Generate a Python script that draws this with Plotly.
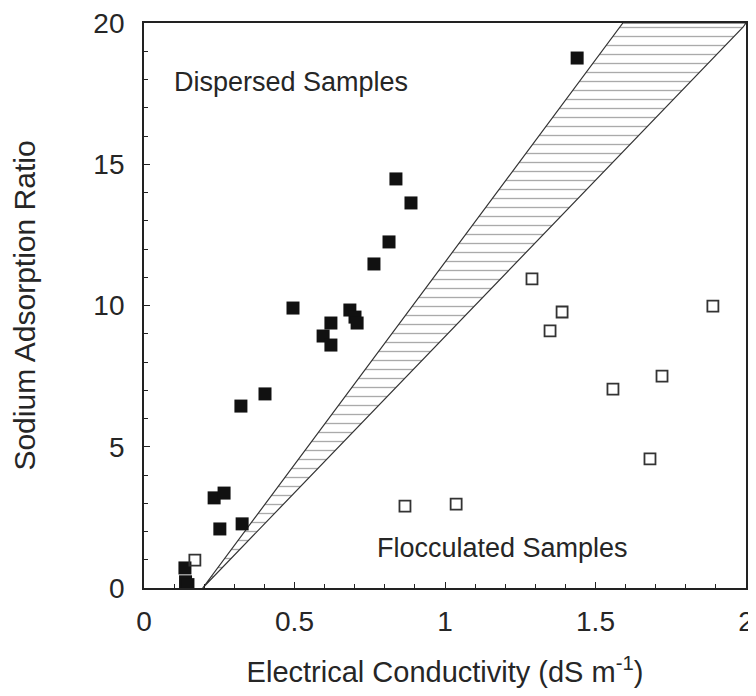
import plotly.graph_objects as go

# Dispersed samples (filled squares)
disp_ec = [1.439, 0.837, 0.887, 0.814, 0.764, 0.495, 0.684, 0.701, 0.708, 0.621, 0.595, 0.621,
           0.402, 0.322, 0.233, 0.266, 0.252, 0.326, 0.136, 0.138, 0.146]
disp_sar = [18.76, 14.48, 13.63, 12.25, 11.47, 9.91, 9.84, 9.59, 9.38, 9.38, 8.92, 8.60,
            6.87, 6.44, 3.19, 3.36, 2.09, 2.27, 0.71, 0.22, 0.12]

# Flocculated samples (open squares)
floc_ec = [0.169, 0.867, 1.037, 1.289, 1.389, 1.349, 1.890, 1.721, 1.558, 1.681]
floc_sar = [0.99, 2.90, 2.97, 10.94, 9.77, 9.10, 9.98, 7.50, 7.04, 4.57]

# Threshold band (hatched wedge): apex, upper boundary top, corner, lower boundary top
band_ec = [0.195, 1.591, 2.0, 1.99, 0.195]
band_sar = [0.0, 20.0, 20.0, 19.85, 0.0]

x_ticks = [0, 0.5, 1, 1.5, 2]
x_tick_labels = ["0", "0.5", "1", "1.5", "2"]
y_ticks = [0, 5, 10, 15, 20]
y_tick_labels = ["0", "5", "10", "15", "20"]

FONT = "Liberation Sans, Arial, Helvetica, sans-serif"
TXT = "#262626"

fig = go.Figure()

fig.add_trace(go.Scatter(
    x=band_ec, y=band_sar, mode="lines", fill="toself",
    line=dict(color="#333333", width=1.2),
    fillcolor="white",
    fillpattern=dict(shape="-", fgcolor="#555555", bgcolor="white", size=9, solidity=0.15),
    hoverinfo="skip", showlegend=False,
))

fig.add_trace(go.Scatter(
    x=disp_ec, y=disp_sar, mode="markers",
    marker=dict(symbol="square", size=13, color="#111111", line=dict(width=0)),
    showlegend=False,
))

fig.add_trace(go.Scatter(
    x=floc_ec, y=floc_sar, mode="markers",
    marker=dict(symbol="square-open", size=11, color="#333333", line=dict(width=1.8, color="#333333")),
    showlegend=False,
))

fig.add_annotation(x=0.093, y=17.9, xref="x", yref="y", text="Dispersed Samples",
                   showarrow=False, xanchor="left", yanchor="middle",
                   font=dict(family=FONT, size=27, color=TXT))
fig.add_annotation(x=1.19, y=1.4, xref="x", yref="y", text="Flocculated Samples",
                   showarrow=False, xanchor="center", yanchor="middle",
                   font=dict(family=FONT, size=27, color=TXT))

fig.update_xaxes(
    range=[0, 2], tickvals=x_ticks, ticktext=x_tick_labels,
    ticks="inside", ticklen=6, tickwidth=1, tickcolor="#222222",
    minor=dict(dtick=0.1, ticks="inside", ticklen=4, tickcolor="#222222"),
    showline=True, linecolor="#222222", linewidth=1.8, mirror=True,
    showgrid=False, zeroline=False, automargin=False,
    ticklabelstandoff=7, ticklabeloverflow="allow",
    tickfont=dict(family=FONT, size=28, color=TXT),
    title=dict(text="Electrical Conductivity (dS m<sup>-1</sup>)",
               font=dict(family=FONT, size=29, color=TXT), standoff=33),
)
fig.update_yaxes(
    range=[0, 20], tickvals=y_ticks, ticktext=y_tick_labels,
    ticks="inside", ticklen=6, tickwidth=1, tickcolor="#222222",
    minor=dict(dtick=1, ticks="inside", ticklen=4, tickcolor="#222222"),
    showline=True, linecolor="#222222", linewidth=1.8, mirror=True,
    showgrid=False, zeroline=False, automargin=False,
    ticklabelstandoff=12, ticklabeloverflow="allow",
    tickfont=dict(family=FONT, size=28, color=TXT),
    title=dict(text="Sodium Adsorption Ratio",
               font=dict(family=FONT, size=30, color=TXT), standoff=50),
)

# page body has an 8px margin: the figure is offset by (8, 8) in the window
fig.update_layout(
    width=748, height=680,
    margin=dict(l=136, r=10, t=15, b=100),
    paper_bgcolor="white", plot_bgcolor="white",
)

fig.write_html("out.html")
